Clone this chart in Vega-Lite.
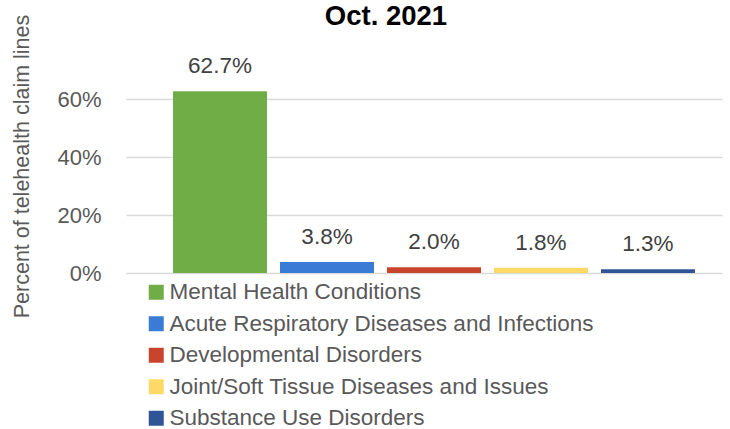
{
  "$schema": "https://vega.github.io/schema/vega-lite/v6.json",
  "width": 596,
  "height": 203,
  "autosize": {"type": "none"},
  "padding": {"left": 126, "top": 70, "right": 8, "bottom": 156},
  "background": "white",
  "title": {
    "text": "Oct. 2021",
    "font": "Liberation Sans",
    "fontSize": 27.5,
    "fontWeight": "bold",
    "color": "#000000",
    "anchor": "middle",
    "frame": "group",
    "dx": -38,
    "offset": -16
  },
  "data": {
    "values": [
      {"category": "Mental Health Conditions", "value": 0.627},
      {"category": "Acute Respiratory Diseases and Infections", "value": 0.038},
      {"category": "Developmental Disorders", "value": 0.020},
      {"category": "Joint/Soft Tissue Diseases and Issues", "value": 0.018},
      {"category": "Substance Use Disorders", "value": 0.013}
    ]
  },
  "encoding": {
    "x": {
      "field": "category",
      "type": "nominal",
      "sort": null,
      "scale": {"paddingInner": 0.1215, "paddingOuter": 0.346, "align": 0.635},
      "axis": null
    },
    "y": {
      "field": "value",
      "type": "quantitative",
      "scale": {"domain": [0, 0.7], "nice": false},
      "axis": {
        "values": [0, 0.2, 0.4, 0.6],
        "format": ".0%",
        "domain": false,
        "ticks": false,
        "labelPadding": 25,
        "labelFont": "Liberation Sans",
        "labelFontSize": 22,
        "labelColor": "#595959",
        "gridColor": "#d9d9d9",
        "gridWidth": 1.5,
        "title": "Percent of telehealth claim lines",
        "titleFont": "Liberation Sans",
        "titleFontSize": 21.5,
        "titleFontWeight": "normal",
        "titleColor": "#595959",
        "titleX": -104,
        "titleY": 96,
        "titleAngle": -90,
        "titleBaseline": "middle",
        "titleAlign": "center"
      }
    }
  },
  "layer": [
    {
      "mark": {"type": "bar"},
      "encoding": {
        "color": {
          "field": "category",
          "type": "nominal",
          "sort": null,
          "scale": {
            "domain": ["Mental Health Conditions", "Acute Respiratory Diseases and Infections", "Developmental Disorders", "Joint/Soft Tissue Diseases and Issues", "Substance Use Disorders"],
            "range": ["#70AD47", "#3A7BD5", "#C9442C", "#FFD966", "#2F5597"]
          },
          "legend": {
            "title": null,
            "orient": "none",
            "legendX": 19,
            "legendY": 211,
            "symbolType": "square",
            "symbolSize": 225,
            "symbolStrokeWidth": 0,
            "labelFont": "Liberation Sans",
            "labelFontSize": 22.5,
            "labelColor": "#595959",
            "labelLimit": 600,
            "labelOffset": 2,
            "rowPadding": 8.5,
            "padding": 0
          }
        }
      }
    },
    {
      "mark": {
        "type": "text",
        "baseline": "alphabetic",
        "dy": -18,
        "font": "Liberation Sans",
        "fontSize": 22.5,
        "color": "#404040"
      },
      "encoding": {
        "text": {"field": "value", "type": "quantitative", "format": ".1%"}
      }
    }
  ],
  "config": {"view": {"stroke": null}}
}
